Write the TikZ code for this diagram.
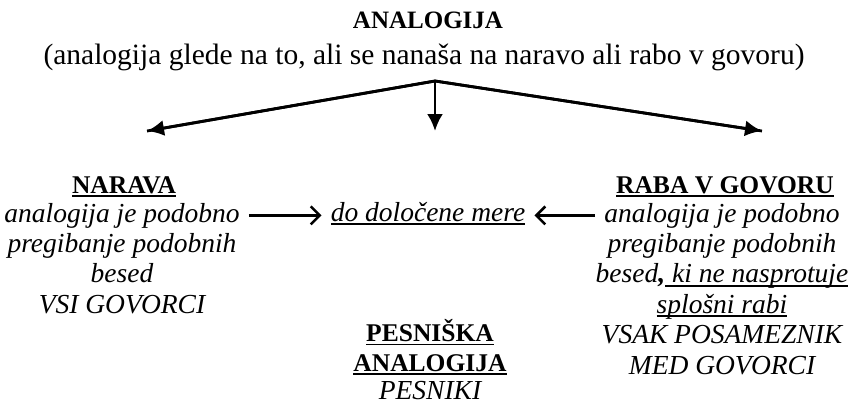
\documentclass[tikz,border=0pt]{standalone}
\usepackage{fontspec}
\setmainfont{Liberation Serif}
\usetikzlibrary{arrows.meta, positioning}

% underline with a heavier rule
\newcommand{\undl}[1]{\setbox0\hbox{#1}\leavevmode
  \rlap{\rule[-0.15em]{\wd0}{0.065em}}\box0}

\begin{document}
\begin{tikzpicture}[
    x=1pt, y=-1pt,
    head/.style={inner sep=0pt, align=center,
                font=\fontsize{25.5}{29.5}\selectfont\bfseries},
    txt/.style={inner sep=0pt, align=center,
                font=\fontsize{27.5}{30.5}\selectfont\itshape},
    plain/.style={inner sep=0pt, font=\fontsize{29.5}{32}\selectfont},
    branch/.style={-{Latex[length=17pt, width=16pt]}, line width=2.8pt},
    side/.style={-{Straight Barb[length=9pt, width=18pt]}, line width=2.6pt,
                shorten <=9pt, shorten >=9pt}
]
\useasboundingbox (0,0) rectangle (860,405);

% === TOP ===
\node[head, anchor=base, font=\fontsize{25}{30}\selectfont\bfseries] (title) at (428,28) {ANALOGIJA};
\node[plain, anchor=base] (sub) at (424,64)
    {(analogija glede na to, ali se nanaša na naravo ali rabo v govoru)};
\coordinate (split) at (435,81);
\coordinate (endL) at (147,131);
\coordinate (endM) at (435,131);
\coordinate (endR) at (762,131);

% === NARAVA ===
\node[head, anchor=base] (narava) at (124,193) {\undl{NARAVA}};
\node[txt, anchor=base] (nar1) at (122,222) {analogija je podobno};
\node[txt, anchor=base] (nar2) at (122,313) {pregibanje podobnih\\besed\\VSI GOVORCI};

% === MERA ===
\node[txt, anchor=base] (mera) at (428,221) {\undl{do določene mere}};

% === RABA V GOVORU ===
\node[head, anchor=base] (raba) at (725,193) {\undl{RABA V GOVORU}};
\node[txt, anchor=base] (rab1) at (722,222) {analogija je podobno};
\node[txt, anchor=base] (rab2) at (722,374) {pregibanje podobnih\\
besed\textbf{,}\undl{ ki ne nasprotuje}\\
\undl{splošni rabi}\\VSAK POSAMEZNIK\\MED GOVORCI};

% === PESNIŠKA ANALOGIJA ===
\node[head, anchor=base] (pesn) at (430,371) {\undl{PESNIŠKA}\\\undl{ANALOGIJA}};
\node[txt, anchor=base] (pesniki) at (430,399) {PESNIKI};

% === ARROWS ===
\draw[line width=2.8pt, line join=miter] (endL) -- (split) -- (endR);
\draw[branch] (split) -- (endL);
\draw[branch] (split) -- (endM);
\draw[branch] (split) -- (endR);
\draw[side] (nar1.east) -- (nar1.east -| mera.west);
\draw[side] (rab1.west) -- (rab1.west -| mera.east);

\end{tikzpicture}
\end{document}
